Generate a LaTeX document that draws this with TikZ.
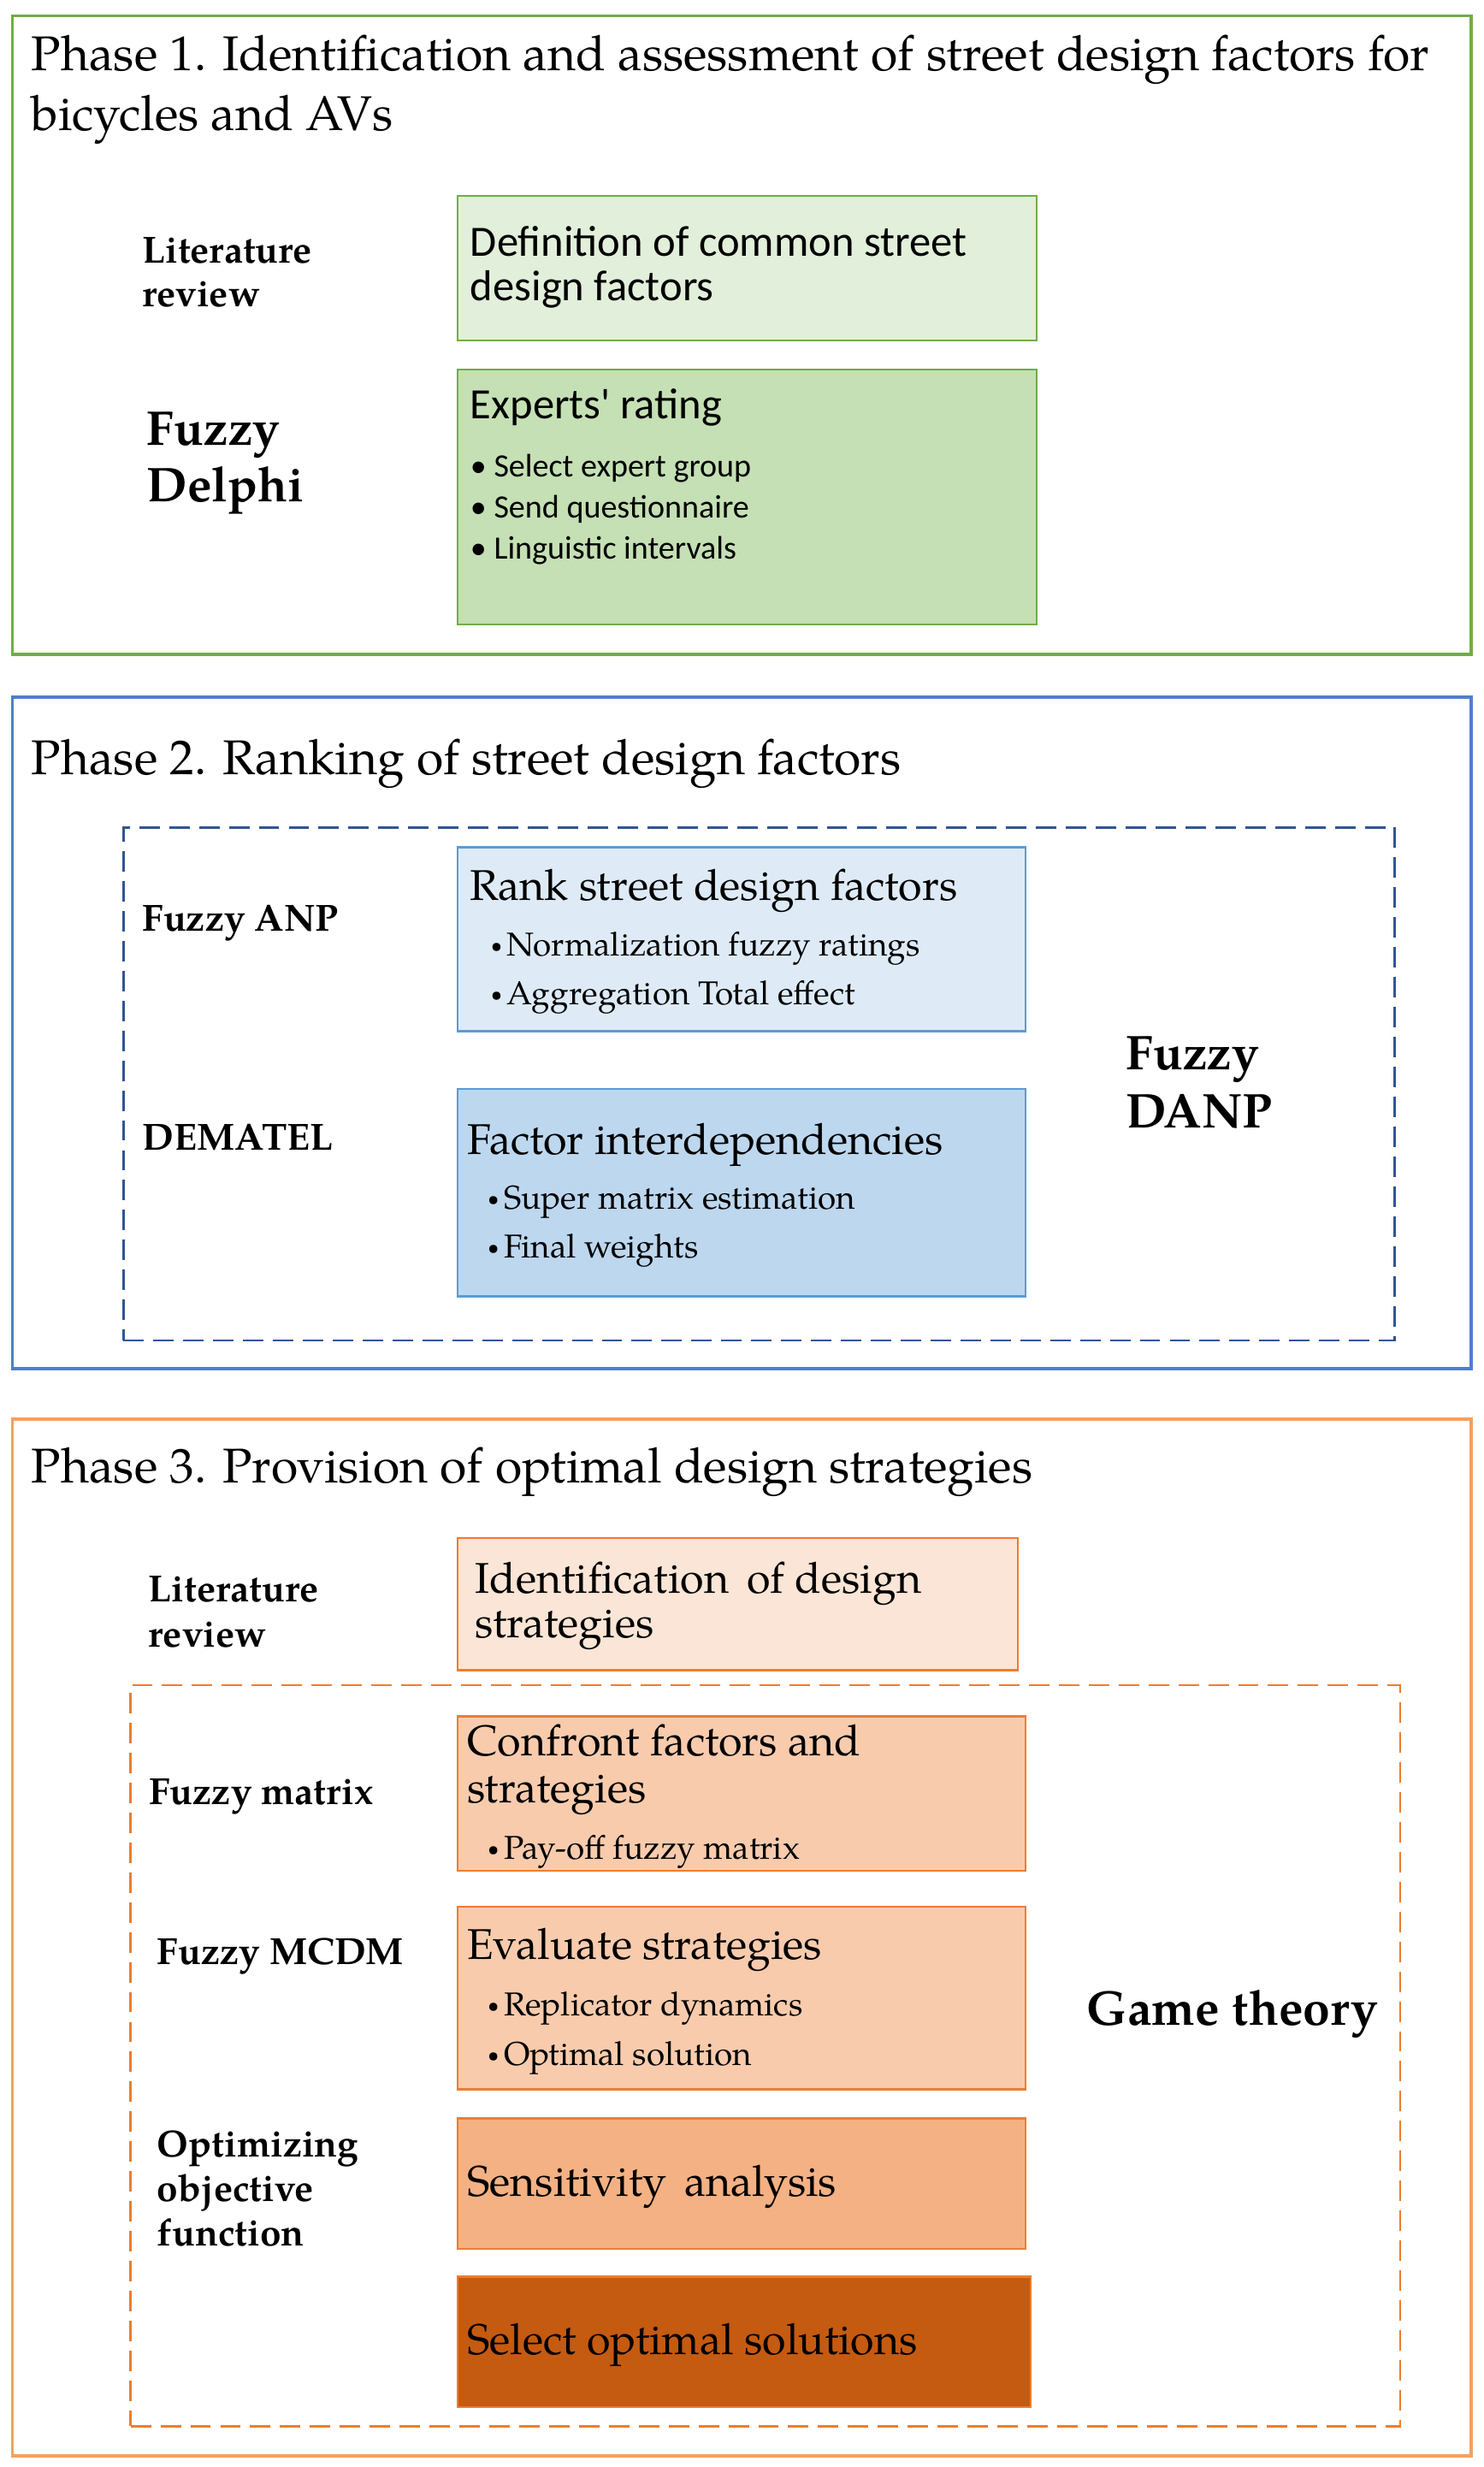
\documentclass[tikz,border=0pt]{standalone}
\usepackage{fontspec}
\setmainfont{TeX Gyre Pagella}
\newfontfamily\calfont{Carlito}
\definecolor{gA}{HTML}{70AD47}
\definecolor{gF1}{HTML}{E2EFDA}
\definecolor{gF2}{HTML}{C5E0B4}
\definecolor{bA}{HTML}{4F7FCC}
\definecolor{bD}{HTML}{2F5597}
\definecolor{bB}{HTML}{5B9BD5}
\definecolor{bF1}{HTML}{DEEBF7}
\definecolor{bF2}{HTML}{BDD7EE}
\definecolor{oA}{HTML}{F4A062}
\definecolor{oD}{HTML}{ED7D31}
\definecolor{oF1}{HTML}{FBE5D6}
\definecolor{oF2}{HTML}{F8CBAD}
\definecolor{oF3}{HTML}{F4B183}
\definecolor{oF4}{HTML}{C55A11}
\newcommand{\sbul}{\raisebox{2pt}{\fontsize{13}{13}\selectfont•}\kern3pt}
\tikzset{
  frame/.style={draw, line width=1.9pt, anchor=north west, inner sep=0pt, outer sep=0pt},
  dframe/.style={draw, line width=1.5pt, dash pattern=on 13pt off 6pt, anchor=north west, inner sep=0pt, outer sep=0pt},
  stepbox/.style={draw, line width=1.3pt, anchor=north west, inner sep=0pt, outer sep=0pt},
  txt/.style={anchor=base west, inner sep=0pt, outer sep=0pt},
  ttl/.style={txt, font=\fontsize{31}{38}\selectfont},
  lbl/.style={txt, font=\bfseries\fontsize{24}{29}\selectfont},
  biglbl/.style={txt, font=\bfseries\fontsize{31}{37}\selectfont},
  ctitle/.style={txt, font=\calfont\fontsize{27.5}{30}\selectfont},
  citem/.style={txt, font=\calfont\fontsize{20.7}{24}\selectfont},
  ptitle/.style={txt, font=\fontsize{27.3}{31}\selectfont},
  pitem/.style={txt, font=\fontsize{21}{25}\selectfont},
}
\begin{document}
\begin{tikzpicture}[x=1pt,y=-1pt]
\useasboundingbox (0,0) rectangle (943,1568);
% ---------------- Phase 1
\node[frame, draw=gA, minimum width=927pt, minimum height=406pt] (p1) at (8,10) {};
\node[ttl] (p1t1) at (20,45) {Phase 1. Identification and assessment of street design factors for};
\node[ttl] (p1t2) at (20,83) {bicycles and AVs};
\node[lbl] (lit1a) at (90.5,167) {Literature};
\node[lbl] (lit1b) at (90.5,195) {review};
\node[biglbl] (fd1) at (93.5,283) {Fuzzy};
\node[biglbl] (fd2) at (93.5,319) {Delphi};
\node[stepbox, draw=gA, fill=gF1, minimum width=368pt, minimum height=92pt] (b11) at (291,124.5) {};
\node[ctitle] (b11a) at (299,163) {Definition of common street};
\node[ctitle] (b11b) at (299,191) {design factors};
\node[stepbox, draw=gA, fill=gF2, minimum width=368pt, minimum height=162pt] (b12) at (291,235) {};
\node[ctitle] (b12a) at (299,266) {Experts' rating};
\node[citem] (b12b) at (299,303) {• Select expert group};
\node[citem] (b12c) at (299,329) {• Send questionnaire};
\node[citem] (b12d) at (299,355.5) {• Linguistic intervals};
% ---------------- Phase 2
\node[frame, draw=bA, minimum width=927pt, minimum height=427pt] (p2) at (8,443) {};
\node[ttl] (p2t) at (20,492.5) {Phase 2. Ranking of street design factors};
\node[dframe, draw=bD, minimum width=808pt, minimum height=326pt] (d2) at (78.5,526) {};
\node[lbl] (anp) at (90.5,592) {Fuzzy ANP};
\node[lbl] (dem) at (90.5,731) {DEMATEL};
\node[stepbox, draw=bB, fill=bF1, minimum width=361pt, minimum height=117pt] (b21) at (291,538.5) {};
\node[ptitle] (b21a) at (298.5,572) {Rank street design factors};
\node[pitem] (b21b) at (312,607.5) {\sbul Normalization fuzzy ratings};
\node[pitem] (b21c) at (312,638.6) {\sbul Aggregation Total effect};
\node[stepbox, draw=bB, fill=bF2, minimum width=361pt, minimum height=132pt] (b22) at (291,692) {};
\node[ptitle] (b22a) at (297,733.5) {Factor interdependencies};
\node[pitem] (b22b) at (310,768.4) {\sbul Super matrix estimation};
\node[pitem] (b22c) at (310,799.5) {\sbul Final weights};
\node[biglbl] (danp1) at (716,680) {Fuzzy};
\node[biglbl] (danp2) at (716,717) {DANP};
% ---------------- Phase 3
\node[frame, draw=oA, minimum width=927pt, minimum height=659pt] (p3) at (8,902) {};
\node[ttl] (p3t) at (20,942.6) {Phase 3. Provision of optimal design strategies};
\node[lbl] (lit3a) at (94.5,1018) {Literature};
\node[lbl] (lit3b) at (94.5,1046.6) {review};
\node[stepbox, draw=oD, fill=oF1, minimum width=356pt, minimum height=84pt] (b31) at (291,977.6) {};
\node[ptitle] (b31a) at (302,1012.6) {Identification\, of design};
\node[ptitle] (b31b) at (302,1041) {strategies};
\node[dframe, draw=oD, minimum width=807pt, minimum height=471pt] (d3) at (83,1071) {};
\node[lbl] (fm) at (94.8,1147) {Fuzzy matrix};
\node[stepbox, draw=oD, fill=oF2, minimum width=361pt, minimum height=98pt] (b32) at (291,1091) {};
\node[ptitle] (b32a) at (297,1116) {Confront factors and};
\node[ptitle] (b32b) at (297,1145.8) {strategies};
\node[pitem] (b32c) at (310,1181.6) {\sbul Pay-off fuzzy matrix};
\node[lbl] (mcdm) at (100,1248.4) {Fuzzy MCDM};
\node[stepbox, draw=oD, fill=oF2, minimum width=361pt, minimum height=116pt] (b33) at (291,1212) {};
\node[ptitle] (b33a) at (297,1245.4) {Evaluate strategies};
\node[pitem] (b33b) at (310,1281) {\sbul Replicator dynamics};
\node[pitem] (b33c) at (310,1312.7) {\sbul Optimal solution};
\node[lbl] (opt1) at (100,1370.8) {Optimizing};
\node[lbl] (opt2) at (100,1399) {objective};
\node[lbl] (opt3) at (100,1427.6) {function};
\node[stepbox, draw=oD, fill=oF3, minimum width=361pt, minimum height=83pt] (b34) at (291,1346.4) {};
\node[ptitle] (b34a) at (297,1396) {Sensitivity\, analysis};
\node[stepbox, draw=oD, fill=oF4, minimum width=364pt, minimum height=83pt] (b35) at (291,1447) {};
\node[ptitle] (b35a) at (297,1496.6) {Select optimal solutions};
\node[biglbl] (game) at (691,1287) {Game theory};
\end{tikzpicture}
\end{document}
